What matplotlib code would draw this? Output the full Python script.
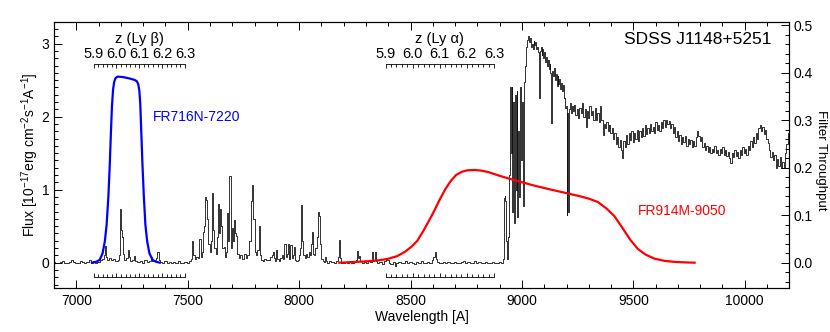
import matplotlib
matplotlib.use('Agg')
import matplotlib.pyplot as plt
from matplotlib.ticker import MultipleLocator, FormatStrFormatter

plt.rcParams['font.family'] = ['Liberation Sans', 'DejaVu Sans']
plt.rcParams['mathtext.default'] = 'regular'

# ---------------- data ----------------
wave = [6900, 6910, 6920, 6930, 6940, 6950, 6960, 6970, 6980, 6990, 7000, 7010, 7020, 7030, 7040,
        7050, 7060, 7070, 7080, 7090, 7100, 7110, 7120, 7126, 7130, 7134, 7140, 7150, 7160, 7170,
        7180, 7190, 7196, 7200, 7204, 7208, 7212, 7220, 7228, 7234, 7238, 7245, 7255, 7263, 7268,
        7278, 7290, 7300, 7310, 7320, 7330, 7338, 7344, 7352, 7360, 7366, 7372, 7380, 7390, 7400,
        7410, 7420, 7430, 7440, 7450, 7460, 7470, 7480, 7490, 7500, 7510, 7518,
        7523, 7528, 7534, 7540, 7548, 7556, 7560, 7566, 7572, 7576, 7580, 7586, 7590, 7596, 7602,
        7608, 7612, 7616, 7622, 7628, 7634, 7638, 7643, 7648, 7652, 7658, 7664, 7668, 7674, 7679,
        7684, 7690, 7694, 7698, 7702, 7707, 7712, 7716, 7720, 7725, 7732, 7740, 7748, 7756, 7764,
        7772, 7780, 7786, 7792, 7798, 7804, 7810, 7816, 7820, 7825, 7832, 7840, 7848, 7856, 7864,
        7872, 7880, 7885, 7890, 7896, 7900, 7905, 7912, 7918, 7924, 7930, 7937, 7942, 7947, 7952,
        7957, 7964, 7968, 7973, 7979, 7984, 7990, 7996, 8002, 8008, 8012, 8017, 8022, 8028, 8034,
        8040, 8046, 8052, 8056, 8060, 8064, 8070, 8076, 8082, 8087, 8092, 8097, 8102, 8108, 8113,
        8117, 8122, 8130, 8140, 8150, 8160, 8170, 8176, 8180, 8184, 8190, 8200, 8210, 8220, 8230,
        8240, 8250, 8258, 8263, 8268, 8272, 8277, 8285, 8295, 8305, 8315, 8322, 8328, 8333, 8338,
        8342, 8347, 8355, 8365, 8375, 8385, 8392, 8398, 8405, 8415, 8425, 8432, 8440, 8450, 8460,
        8470, 8480, 8490, 8500, 8510, 8520, 8530, 8540, 8550, 8560, 8570, 8580, 8590, 8600, 8606,
        8610, 8615, 8622, 8630, 8640, 8650, 8660, 8670, 8680, 8690, 8700, 8710, 8720, 8730, 8740,
        8750, 8760, 8770, 8780, 8790, 8800, 8810, 8820, 8830, 8840, 8850, 8860, 8870, 8880, 8890,
        8900, 8910, 8916,
        8920, 8924, 8928, 8932, 8936, 8940, 8944, 8948, 8952, 8955, 8958, 8962, 8966, 8970, 8974,
        8978, 8982, 8986, 8990, 8994, 8998, 9002, 9006, 9010, 9014, 9018, 9022, 9026, 9030, 9034,
        9038, 9042, 9046, 9050, 9054, 9058, 9062, 9066, 9070, 9074, 9078, 9082, 9086, 9090, 9094,
        9098, 9102, 9106, 9110, 9114, 9118, 9122, 9126, 9130, 9134, 9138, 9142, 9146, 9150, 9154,
        9158, 9162, 9166, 9170, 9174, 9178, 9182, 9186, 9190, 9194, 9198, 9202, 9206, 9210, 9214,
        9218, 9222, 9226, 9230, 9236, 9242, 9248, 9254, 9260, 9266, 9272, 9278, 9284, 9288, 9294,
        9300, 9306, 9312, 9318, 9324, 9330, 9336, 9342, 9348, 9354, 9360, 9364, 9370, 9376, 9382,
        9388, 9394, 9400, 9406, 9412, 9418, 9424, 9430, 9436, 9442, 9448, 9452, 9458, 9464, 9470,
        9476, 9482, 9488, 9494, 9500, 9506, 9512, 9518, 9524, 9530, 9536, 9542, 9548, 9554, 9560,
        9566, 9572, 9578, 9584, 9590, 9596, 9602, 9608, 9614, 9620, 9626, 9632, 9638, 9644, 9650,
        9656, 9662, 9668, 9674, 9680, 9686, 9692, 9698, 9704, 9710, 9716, 9722, 9728, 9734, 9740,
        9746, 9752, 9758, 9764, 9770, 9776, 9782, 9788, 9794, 9800, 9806, 9812, 9818, 9824, 9830,
        9836, 9842, 9848, 9854, 9860, 9866, 9872, 9878, 9884, 9890, 9896, 9902, 9908, 9914, 9920,
        9926, 9932, 9938, 9944, 9950, 9956, 9962, 9968, 9974, 9980, 9986, 9992, 9998, 10004, 10010,
        10016, 10022, 10028, 10034, 10040, 10046, 10052, 10058, 10064, 10070, 10076, 10082, 10088,
        10094, 10100, 10106, 10112, 10118, 10124, 10130, 10136, 10142, 10148, 10154, 10160, 10166,
        10172, 10178, 10184, 10190, 10196, 10200]

flux = [0.01, 0.00, -0.01, 0.01, 0.02, 0.00, -0.01, 0.01, 0.03, 0.01, -0.01, 0.00, 0.02, 0.01, -0.01,
        0.01, 0.03, 0.00, 0.02, -0.01, 0.01, 0.03, 0.05, 0.10, 0.23, 0.08, 0.03, 0.06, 0.04, 0.05,
        0.02, 0.04, 0.10, 0.73, 0.45, 0.35, 0.12, 0.04, 0.06, 0.18, 0.08, 0.02, 0.03, 0.09, 0.02,
        0.01, 0.02, 0.00, 0.03, 0.01, 0.02, 0.08, 0.02, 0.03, 0.06, 0.14, 0.04, 0.01, 0.00, 0.02,
        0.00, 0.01, -0.01, 0.01, 0.00, 0.02, 0.00, -0.01, 0.01, 0.00, 0.02, 0.05,
        0.30, 0.10, 0.05, 0.08, 0.06, 0.33, 0.08, 0.15, 0.42, 0.50, 0.90, 0.86, 0.60, 0.25, 0.15,
        0.30, 0.96, 0.45, 0.20, 0.12, 0.35, 0.81, 0.40, 0.74, 0.50, 0.20, 0.22, 0.08, 0.15, 0.68,
        0.30, 1.19, 0.45, 0.20, 0.47, 0.30, 0.58, 0.40, 0.36, 0.12, 0.06, 0.10, 0.05, 0.12, 0.06,
        0.10, 0.30, 0.85, 1.06, 0.60, 0.15, 0.10, 0.18, 0.50, 0.10, 0.04, 0.02, 0.05, 0.03, 0.04,
        0.08, 0.10, 0.15, 0.06, 0.02, 0.17, 0.05, 0.02, 0.06, 0.10, 0.05, 0.26, 0.08, 0.12, 0.25,
        0.05, 0.24, 0.06, 0.10, 0.22, 0.04, 0.02, 0.03, 0.10, 0.20, 0.79, 0.30, 0.10, 0.06, 0.12,
        0.08, 0.15, 0.10, 0.25, 0.42, 0.12, 0.10, 0.20, 0.35, 0.70, 0.64, 0.25, 0.05, 0.02, 0.01,
        0.08, 0.02, 0.00, 0.02, 0.01, 0.00, 0.02, 0.08, 0.31, 0.06, 0.00, -0.01, 0.01, 0.00, 0.02,
        -0.01, 0.01, 0.03, 0.16, 0.06, 0.09, 0.02, 0.00, 0.01, -0.01, 0.02, 0.01, 0.14, 0.02, 0.03,
        0.14, 0.02, 0.00, 0.01, -0.02, 0.02, 0.07, 0.03, 0.00, -0.02, 0.01, -0.04, 0.00, 0.01, -0.01,
        0.00, 0.02, -0.01, 0.01, 0.00, -0.02, 0.01, 0.00, 0.02, -0.01, 0.00, 0.01, -0.01, 0.03, 0.08,
        0.14, 0.05, 0.01, 0.00, -0.01, 0.01, 0.00, 0.01, -0.01, 0.00, 0.01, 0.00, -0.01, 0.01, 0.02,
        0.00, 0.01, -0.01, 0.00, 0.02, 0.00, 0.01, -0.01, 0.00, 0.01, -0.01, 0.00, 0.01, -0.01, 0.00,
        0.01, 0.00, 0.05,
        0.88, 0.92, 0.85, 0.30, 0.05, 0.35, 1.20, 2.40, 1.50, 2.41, 0.70, 2.20, 0.55, 2.30, 1.00,
        2.35, 0.63, 1.80, 0.90, 2.41, 1.40, 2.20, 0.77, 2.48, 2.70, 2.89, 2.95, 3.05, 3.10, 3.02,
        3.08, 2.95, 3.00, 2.92, 3.03, 2.98, 3.02, 2.93, 2.96, 2.88, 2.25, 2.90, 2.96, 2.85, 2.92,
        2.80, 2.88, 2.75, 2.82, 2.70, 2.78, 2.65, 2.72, 2.60, 1.91, 2.62, 2.55, 2.66, 2.50, 2.58,
        2.42, 2.55, 2.45, 2.52, 2.38, 2.46, 2.35, 2.44, 2.25, 2.12, 2.15, 0.65, 2.05, 0.70, 2.10,
        2.18, 2.05, 2.14, 2.08, 2.16, 2.02, 2.10, 1.98, 2.12, 2.05, 2.18, 2.00, 2.10, 1.86, 2.08,
        1.98, 2.14, 2.02, 2.08, 1.95, 2.12, 1.96, 2.05, 1.92, 2.14, 1.95, 1.75, 1.90, 1.85, 1.92,
        1.80, 1.88, 1.78, 1.85, 1.70, 1.78, 1.62, 1.72, 1.58, 1.68, 1.55, 1.43, 1.66, 1.58, 1.75,
        1.62, 1.78, 1.68, 1.80, 1.65, 1.78, 1.70, 1.82, 1.66, 1.80, 1.72, 1.85, 1.74, 1.88, 1.76,
        1.84, 1.78, 1.90, 1.80, 1.86, 1.78, 1.92, 1.82, 1.88, 1.80, 1.92, 1.85, 1.95, 1.86, 1.96,
        1.90, 1.94, 1.84, 1.90, 1.78, 1.86, 1.72, 1.80, 1.66, 1.75, 1.62, 1.72, 1.65, 1.74, 1.60,
        1.70, 1.62, 1.68, 1.58, 1.66, 1.60, 1.72, 1.80, 1.74, 1.66, 1.72, 1.58, 1.64, 1.55, 1.60,
        1.52, 1.58, 1.50, 1.56, 1.52, 1.60, 1.50, 1.55, 1.48, 1.56, 1.50, 1.58, 1.48, 1.54, 1.46,
        1.52, 1.44, 1.36, 1.50, 1.45, 1.55, 1.46, 1.52, 1.44, 1.54, 1.48, 1.58, 1.50, 1.56, 1.48,
        1.60, 1.54, 1.66, 1.58, 1.72, 1.64, 1.78, 1.70, 1.85, 1.88, 1.80, 1.86, 1.76,
        1.82, 1.70, 1.64, 1.55, 1.45, 1.52, 1.40, 1.48, 1.30, 1.42, 1.33, 1.45, 1.29,
        1.38, 1.30, 1.50, 1.62, 1.78, 1.72]

# filter throughputs (right axis)
blue_wave = [7070, 7090, 7105, 7118, 7128, 7136, 7144, 7150, 7155, 7160, 7165, 7170, 7176, 7185,
             7210, 7240, 7262, 7272, 7278, 7283, 7287, 7292, 7297, 7303, 7310, 7318, 7328, 7342,
             7357, 7375]
blue_tp = [0.0, 0.002, 0.006, 0.02, 0.045, 0.08, 0.14, 0.205, 0.27, 0.33, 0.365, 0.381, 0.389,
           0.392, 0.391, 0.388, 0.385, 0.382, 0.376, 0.362, 0.335, 0.27, 0.205, 0.14, 0.08, 0.045,
           0.02, 0.006, 0.002, 0.0]

red_wave = [8180, 8250, 8305, 8350, 8395, 8440, 8475, 8505, 8530, 8555, 8580, 8605, 8630, 8655,
            8680, 8705, 8730, 8755, 8790, 8820, 8850, 8900, 8965, 9050, 9130, 9205, 9260, 9300,
            9340, 9380, 9415, 9450, 9485, 9520, 9555, 9595, 9640, 9690, 9740, 9775]
red_tp = [0.0, 0.0015, 0.003, 0.0046, 0.0077, 0.0138, 0.023, 0.034, 0.046, 0.065, 0.086, 0.108,
          0.132, 0.154, 0.172, 0.185, 0.1915, 0.1946, 0.1954, 0.1938, 0.1908, 0.183, 0.174, 0.163,
          0.154, 0.146, 0.140, 0.135, 0.128, 0.114, 0.098, 0.074, 0.049, 0.029, 0.017, 0.0085,
          0.0038, 0.0015, 0.0005, 0.0]

LYA = 1215.67
LYB = 1025.72
z_ticks = [5.9, 6.0, 6.1, 6.2, 6.3]
z_labels = ['5.9', '6.0', '6.1', '6.2', '6.3']

# ---------------- figure ----------------
fig = plt.figure(figsize=(8.3, 3.32), dpi=100)
ax = fig.add_axes([0.0651, 0.134, 0.8859, 0.8006])

ax.plot(wave, flux, drawstyle='steps-mid', color='#111111', lw=0.6)
ax.set_xlim(6900, 10200)
ax.set_ylim(-0.34, 3.30)
ax.xaxis.set_major_locator(MultipleLocator(500))
ax.xaxis.set_minor_locator(MultipleLocator(100))
ax.yaxis.set_major_locator(MultipleLocator(1))
ax.yaxis.set_minor_locator(MultipleLocator(0.1))
ax.tick_params(which='both', direction='in', top=True, right=False, labelsize=10, width=0.7)
ax.tick_params(which='major', length=6)
ax.tick_params(which='minor', length=3)
ax.tick_params(axis='x', pad=5)
for s in ax.spines.values():
    s.set_linewidth(0.8)
ax.set_xlabel('Wavelength [A]', fontsize=10, labelpad=1)
ax.set_ylabel('Flux [10$^{-17}$erg cm$^{-2}$s$^{-1}$A$^{-1}$]', fontsize=10, labelpad=0)

ax2 = ax.twinx()
ax2.set_ylim(-0.34 / 6.5, 3.30 / 6.5)
ax2.plot(blue_wave, blue_tp, color='#0000ff', lw=1.6)
ax2.plot(red_wave, red_tp, color='#ff0000', lw=1.6)
ax2.yaxis.set_major_locator(MultipleLocator(0.1))
ax2.yaxis.set_minor_locator(MultipleLocator(0.02))
ax2.yaxis.set_major_formatter(FormatStrFormatter('%.1f'))
ax2.tick_params(which='both', direction='in', labelsize=10, width=0.7, pad=3)
ax2.tick_params(which='major', length=6)
ax2.tick_params(which='minor', length=3)
fig.text(821 / 830, 1 - 160 / 332, 'Filter Throughput', fontsize=9.5, rotation=270,
         ha='center', va='center')

ax.text(0.194, 0.643, 'FR716N-7220', color='#0000ff', fontsize=10, ha='center', va='center',
        transform=ax.transAxes)
ax.text(0.854, 0.289, 'FR914M-9050', color='#ff0000', fontsize=10, ha='center', va='center',
        transform=ax.transAxes)
ax.text(0.876, 0.932, 'SDSS J1148+5251', color='black', fontsize=12.5, ha='center', va='center',
        transform=ax.transAxes)

# redshift brackets
def z_bracket(lam0, title):
    top = ax2.inset_axes([lam0 * (1 + z_ticks[0]), 2.72 - 0.05, lam0 * (z_ticks[-1] - z_ticks[0]), 0.05],
                         transform=ax.transData)
    bot = ax2.inset_axes([lam0 * (1 + z_ticks[0]), -0.19, lam0 * (z_ticks[-1] - z_ticks[0]), 0.05],
                         transform=ax.transData)
    for iax in (top, bot):
        iax.patch.set_visible(False)
        iax.set_xlim(z_ticks[0], z_ticks[-1])
        iax.set_yticks([])
        for s in iax.spines.values():
            s.set_visible(False)
        iax.xaxis.set_major_locator(MultipleLocator(0.1))
        iax.xaxis.set_minor_locator(MultipleLocator(0.02))
    top.spines['top'].set_visible(True)
    top.spines['top'].set_linewidth(0.6)
    top.xaxis.set_ticks_position('top')
    top.set_xticks(z_ticks)
    top.set_xticklabels(z_labels)
    top.tick_params(axis='x', which='both', direction='in', top=True, bottom=False, labeltop=True,
                    labelbottom=False, width=0.6, labelsize=10.5, pad=2)
    top.tick_params(axis='x', which='major', length=3)
    top.tick_params(axis='x', which='minor', length=2)
    top.xaxis.set_label_position('top')
    top.set_xlabel(title, fontsize=10.5, labelpad=3)
    bot.spines['bottom'].set_visible(True)
    bot.spines['bottom'].set_linewidth(0.6)
    bot.xaxis.set_ticks_position('bottom')
    bot.tick_params(axis='x', which='both', direction='in', labelbottom=False, width=0.6)
    bot.tick_params(axis='x', which='major', length=3)
    bot.tick_params(axis='x', which='minor', length=2)

z_bracket(LYB, 'z (Ly \u03b2)')
z_bracket(LYA, 'z (Ly \u03b1)')

fig.savefig('out.png', dpi=100)
